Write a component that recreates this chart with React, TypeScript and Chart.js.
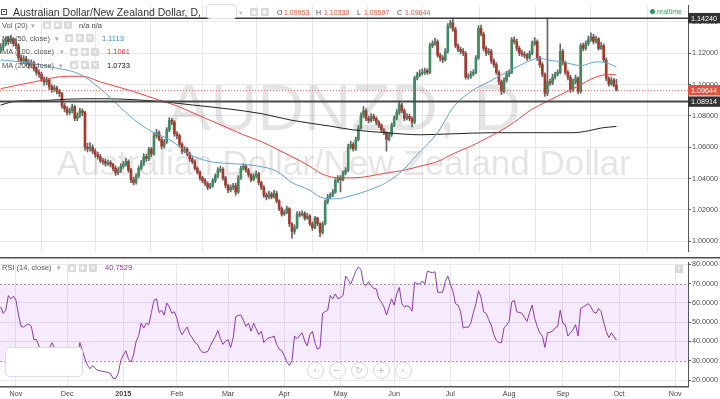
import React, { useEffect, useRef } from "react";
import { Chart, registerables } from "chart.js";

Chart.register(...registerables);

const FONT = '"Liberation Sans", Arial, Helvetica, sans-serif';

// ---------------- data (daily AUD/NZD candles, bar 0 = Mon 3 Nov 2014) ----------------
const firstBar = -6;
const firstOpen = 1.1215;

const closes = [
  1.1237, 1.1261, 1.1286, 1.1274, 1.1292, 1.1261,
  1.1249, 1.1170, 1.1151, 1.1164, 1.1139, 1.1127, 1.1139, 1.1102, 1.1078, 1.1066,
  1.1035, 1.1017, 1.1029, 1.0986, 1.0968, 1.0980, 1.0956, 1.0943, 1.0864, 1.0845,
  1.0821, 1.0833, 1.0858, 1.0784, 1.0803, 1.0833, 1.0821, 1.0601, 1.0589, 1.0601,
  1.0576, 1.0552, 1.0540, 1.0515, 1.0509, 1.0497, 1.0503, 1.0491, 1.0466, 1.0436,
  1.0454, 1.0479, 1.0491, 1.0509, 1.0454, 1.0393, 1.0375, 1.0417, 1.0466, 1.0497,
  1.0540, 1.0527, 1.0589, 1.0558, 1.0674, 1.0693, 1.0650, 1.0607, 1.0637, 1.0711,
  1.0772, 1.0760, 1.0686, 1.0674, 1.0619, 1.0576, 1.0589, 1.0558, 1.0527, 1.0509,
  1.0466, 1.0442, 1.0405, 1.0387, 1.0369, 1.0344, 1.0356, 1.0387, 1.0417, 1.0454,
  1.0460, 1.0405, 1.0356, 1.0326, 1.0344, 1.0356, 1.0314, 1.0405, 1.0466, 1.0479,
  1.0454, 1.0424, 1.0393, 1.0417, 1.0430, 1.0375, 1.0344, 1.0295, 1.0283, 1.0301,
  1.0283, 1.0307, 1.0258, 1.0209, 1.0173, 1.0185, 1.0209, 1.0112, 1.0063, 1.0087,
  1.0173, 1.0168, 1.0179, 1.0148, 1.0161, 1.0112, 1.0087, 1.0148, 1.0112, 1.0057,
  1.0112, 1.0252, 1.0283, 1.0295, 1.0314, 1.0387, 1.0405, 1.0393, 1.0436, 1.0454,
  1.0601, 1.0619, 1.0589, 1.0650, 1.0723, 1.0803, 1.0833, 1.0784, 1.0772, 1.0797,
  1.0784, 1.0760, 1.0741, 1.0711, 1.0693, 1.0650, 1.0680, 1.0741, 1.0784, 1.0821,
  1.0870, 1.0833, 1.0784, 1.0797, 1.0784, 1.0760, 1.1041, 1.1060, 1.1072, 1.1078,
  1.1090, 1.1078, 1.1249, 1.1261, 1.1274, 1.1188, 1.1170, 1.1157, 1.1212, 1.1371,
  1.1396, 1.1353, 1.1249, 1.1225, 1.1212, 1.1200, 1.1047, 1.1053, 1.1066, 1.1078,
  1.1170, 1.1359, 1.1323, 1.1231, 1.1200, 1.1212, 1.1151, 1.1127, 1.1078, 1.1017,
  1.0956, 1.1029, 1.1066, 1.1078, 1.1286, 1.1274, 1.1231, 1.1200, 1.1194, 1.1188,
  1.1170, 1.1200, 1.1261, 1.1274, 1.1170, 1.1127, 1.1066, 1.0943, 1.1017, 1.1010,
  1.1047, 1.1066, 1.1078, 1.1212, 1.1139, 1.1078, 1.1047, 1.0968, 1.1017, 1.1041,
  1.0956, 1.1249, 1.1231, 1.1261, 1.1286, 1.1304, 1.1274, 1.1292, 1.1231, 1.1249,
  1.1157, 1.1041, 1.1004, 1.1029, 1.0995, 1.0964,
];

const highs = [
  1.1262, 1.1285, 1.1305, 1.1310, 1.1315, 1.1300,
  1.1290, 1.1262, 1.1190, 1.1185, 1.1180, 1.1160, 1.1158, 1.1150, 1.1115, 1.1095,
  1.1080, 1.1050, 1.1048, 1.1040, 1.1000, 1.0995, 1.0990, 1.0970, 1.0950, 1.0880,
  1.0860, 1.0850, 1.0875, 1.0870, 1.0820, 1.0850, 1.0845, 1.0830, 1.0625, 1.0630,
  1.0615, 1.0590, 1.0570, 1.0555, 1.0530, 1.0525, 1.0520, 1.0515, 1.0500, 1.0480,
  1.0470, 1.0495, 1.0510, 1.0530, 1.0520, 1.0465, 1.0410, 1.0430, 1.0480, 1.0515,
  1.0560, 1.0555, 1.0600, 1.0600, 1.0690, 1.0715, 1.0705, 1.0665, 1.0650, 1.0725,
  1.0790, 1.0785, 1.0770, 1.0700, 1.0685, 1.0630, 1.0605, 1.0600, 1.0570, 1.0540,
  1.0520, 1.0475, 1.0450, 1.0415, 1.0400, 1.0380, 1.0370, 1.0400, 1.0430, 1.0470,
  1.0480, 1.0470, 1.0415, 1.0365, 1.0360, 1.0370, 1.0370, 1.0420, 1.0480, 1.0495,
  1.0490, 1.0465, 1.0435, 1.0430, 1.0450, 1.0440, 1.0385, 1.0355, 1.0310, 1.0320,
  1.0315, 1.0325, 1.0320, 1.0265, 1.0220, 1.0200, 1.0225, 1.0215, 1.0120, 1.0105,
  1.0190, 1.0190, 1.0195, 1.0190, 1.0180, 1.0170, 1.0125, 1.0160, 1.0155, 1.0120,
  1.0125, 1.0265, 1.0300, 1.0310, 1.0330, 1.0400, 1.0420, 1.0420, 1.0450, 1.0470,
  1.0620, 1.0640, 1.0630, 1.0665, 1.0740, 1.0820, 1.0860, 1.0845, 1.0800, 1.0815,
  1.0810, 1.0795, 1.0770, 1.0750, 1.0720, 1.0700, 1.0695, 1.0755, 1.0800, 1.0840,
  1.0895, 1.0880, 1.0845, 1.0815, 1.0810, 1.0795, 1.1055, 1.1080, 1.1095, 1.1100,
  1.1105, 1.1100, 1.1265, 1.1280, 1.1295, 1.1285, 1.1200, 1.1185, 1.1230, 1.1390,
  1.1410, 1.1424, 1.1365, 1.1260, 1.1240, 1.1230, 1.1210, 1.1070, 1.1085, 1.1095,
  1.1185, 1.1375, 1.1380, 1.1335, 1.1245, 1.1230, 1.1225, 1.1165, 1.1140, 1.1090,
  1.1030, 1.1045, 1.1085, 1.1095, 1.1300, 1.1305, 1.1290, 1.1245, 1.1220, 1.1210,
  1.1200, 1.1215, 1.1280, 1.1300, 1.1285, 1.1180, 1.1140, 1.1075, 1.1424, 1.1035,
  1.1065, 1.1080, 1.1095, 1.1260, 1.1225, 1.1150, 1.1090, 1.1060, 1.1035, 1.1060,
  1.1050, 1.1261, 1.1265, 1.1280, 1.1310, 1.1330, 1.1320, 1.1310, 1.1300, 1.1270,
  1.1260, 1.1170, 1.1050, 1.1045, 1.1040, 1.1033,
];

const lows = [
  1.1200, 1.1220, 1.1248, 1.1255, 1.1262, 1.1245,
  1.1230, 1.1150, 1.1130, 1.1135, 1.1120, 1.1105, 1.1110, 1.1085, 1.1060, 1.1045,
  1.1020, 1.0995, 1.1000, 1.0970, 1.0950, 1.0955, 1.0940, 1.0925, 1.0850, 1.0825,
  1.0805, 1.0810, 1.0820, 1.0770, 1.0770, 1.0790, 1.0800, 1.0580, 1.0570, 1.0575,
  1.0560, 1.0535, 1.0525, 1.0500, 1.0490, 1.0480, 1.0485, 1.0475, 1.0450, 1.0420,
  1.0425, 1.0440, 1.0465, 1.0480, 1.0440, 1.0375, 1.0360, 1.0365, 1.0405, 1.0455,
  1.0485, 1.0510, 1.0515, 1.0540, 1.0550, 1.0660, 1.0640, 1.0590, 1.0595, 1.0625,
  1.0700, 1.0745, 1.0670, 1.0655, 1.0600, 1.0560, 1.0565, 1.0545, 1.0510, 1.0495,
  1.0455, 1.0430, 1.0390, 1.0372, 1.0355, 1.0330, 1.0335, 1.0345, 1.0375, 1.0405,
  1.0440, 1.0390, 1.0340, 1.0310, 1.0315, 1.0330, 1.0295, 1.0305, 1.0395, 1.0455,
  1.0440, 1.0410, 1.0380, 1.0385, 1.0405, 1.0360, 1.0330, 1.0280, 1.0265, 1.0270,
  1.0270, 1.0275, 1.0245, 1.0195, 1.0160, 1.0165, 1.0175, 1.0095, 1.0020, 1.0045,
  1.0080, 1.0155, 1.0160, 1.0135, 1.0140, 1.0100, 1.0070, 1.0080, 1.0100, 1.0030,
  1.0045, 1.0105, 1.0240, 1.0270, 1.0285, 1.0305, 1.0375, 1.0315, 1.0385, 1.0425,
  1.0445, 1.0590, 1.0575, 1.0580, 1.0640, 1.0715, 1.0790, 1.0770, 1.0755, 1.0760,
  1.0770, 1.0745, 1.0725, 1.0700, 1.0680, 1.0576, 1.0640, 1.0670, 1.0730, 1.0775,
  1.0810, 1.0820, 1.0770, 1.0775, 1.0770, 1.0730, 1.0750, 1.1030, 1.1050, 1.1060,
  1.1065, 1.1065, 1.1070, 1.1235, 1.1250, 1.1175, 1.1150, 1.1140, 1.1150, 1.1200,
  1.1360, 1.1340, 1.1235, 1.1210, 1.1195, 1.1185, 1.1035, 1.1035, 1.1040, 1.1055,
  1.1070, 1.1160, 1.1310, 1.1215, 1.1185, 1.1190, 1.1135, 1.1110, 1.1065, 1.1000,
  1.0935, 1.0945, 1.1015, 1.1050, 1.1070, 1.1260, 1.1215, 1.1185, 1.1180, 1.1170,
  1.1155, 1.1160, 1.1190, 1.1250, 1.1155, 1.1110, 1.1050, 1.0925, 1.0930, 1.0995,
  1.1000, 1.1035, 1.1055, 1.1070, 1.1125, 1.1065, 1.1030, 1.0950, 1.0955, 1.1005,
  1.0940, 1.0945, 1.1215, 1.1220, 1.1250, 1.1275, 1.1260, 1.1265, 1.1220, 1.1225,
  1.1145, 1.1025, 1.0990, 1.0995, 1.0985, 1.0960,
];

const rsiValues = [
  57.9, 54.6, 56.2, 63.8, 62.1, 63.5, 61.3, 53.7, 47.8, 47.5,
  48.5, 49.0, 47.8, 41.0, 41.0, 37.7, 35, 34, 33, 36,
  39.4, 37, 33, 32, 31, 30, 29, 29.5, 30, 31,
  32, 39.4, 35.2, 31, 27.6, 25.9, 27.6, 26, 25.1, 24.8,
  24.5, 24.3, 24, 23.4, 20.9, 20.9, 23.4, 30.1, 33, 35.2,
  31.0, 29.3, 33, 40, 43, 49.5, 47, 49.5, 48.7, 55,
  61.3, 62.1, 55, 56.2, 53.7, 60, 58, 54.6, 55.4, 52.0,
  46.1, 43.5, 45.8, 47.5, 43.6, 41.9, 39.5, 38.6, 36.0, 34.4,
  34.4, 34.8, 37.5, 40.2, 42.5, 45.7, 41.5, 38.5, 40.2, 41.0,
  36.9, 41.9, 52.9, 53.5, 53.7, 51, 47.8, 49.5, 45.3, 49.5,
  46.5, 43.6, 45.3, 39.4, 41.0, 41.9, 42.2, 42.8, 38.6, 36.0,
  35.2, 32.7, 29.5, 27.6, 30.1, 42.8, 41.5, 43, 44.5, 40.2,
  37.7, 43.5, 45.3, 39.4, 36.0, 36.9, 54.6, 55.5, 56.2, 63.8,
  62.1, 64.6, 62.1, 62.8, 63.8, 73.9, 72, 69.7, 73, 76.4,
  78.6, 77.3, 70, 68.9, 70.9, 68.9, 67.5, 67.2, 62.1, 60.4,
  57.9, 53.7, 57.9, 62.1, 58.8, 64.7, 68.0, 59.6, 57.9, 58.5,
  57.9, 55.7, 70.6, 70, 69.7, 71.4, 69.7, 76.4, 76, 75.6,
  76.1, 65.5, 65.5, 65.5, 71, 73.9, 69.7, 66, 59.6, 58.8,
  55.4, 47.0, 47.5, 47.3, 49.5, 55, 59.6, 66.3, 62.9, 55.4,
  54.6, 51.3, 48.5, 43.6, 40.5, 39.4, 39.4, 47.0, 48.5, 50.4,
  60.4, 61.3, 55.4, 55, 54.6, 52.5, 50.4, 55, 58.8, 52.0,
  47.8, 44.5, 42.8, 36.9, 44.5, 44.8, 45.3, 47.0, 47.8, 56.2,
  49.5, 48.7, 42.8, 44.5, 46.1, 48.7, 42.8, 57.1, 57.9, 58.8,
  59.6, 57.9, 55.4, 54.6, 57.1, 55.4, 50, 45.3, 42.0, 44.5,
  42.5, 40.75,
];

const ma50Bars = [-6, 5, 15, 25, 33, 41, 48, 54, 60, 69, 76, 83, 89, 95, 102, 108, 115, 119, 125, 132, 139, 145, 151, 158, 165, 171, 178, 185, 194, 201, 205, 208, 214, 221, 227, 231, 235];
const ma50Values = [1.1157, 1.1139, 1.1108, 1.1066, 1.0974, 1.0852, 1.0754, 1.0693, 1.065, 1.0546, 1.0509, 1.0497, 1.0491, 1.0479, 1.0448, 1.0375, 1.0326, 1.0283, 1.0271, 1.0295, 1.0332, 1.0375, 1.0448, 1.057, 1.0693, 1.0852, 1.0956, 1.1017, 1.1096, 1.1151, 1.117, 1.1157, 1.1145, 1.1121, 1.1145, 1.1139, 1.1113];

const ma100Bars = [-6, 7, 20, 26, 33, 46, 56, 63, 69, 76, 83, 89, 96, 102, 108, 115, 119, 126, 132, 145, 152, 158, 165, 171, 178, 184, 189, 195, 201, 208, 214, 221, 225, 229, 232, 235];
const ma100Values = [1.0974, 1.1017, 1.1053, 1.1053, 1.1017, 1.0956, 1.0901, 1.0864, 1.0821, 1.0772, 1.0723, 1.068, 1.0637, 1.0589, 1.054, 1.0479, 1.0436, 1.0405, 1.0405, 1.0436, 1.0454, 1.0479, 1.0509, 1.0558, 1.0607, 1.0656, 1.0699, 1.076, 1.0833, 1.0894, 1.0943, 1.0998, 1.1035, 1.1058, 1.1066, 1.1061];

const ma200Bars = [-6, 0, 13, 20, 33, 46, 59, 69, 83, 96, 108, 123, 132, 145, 158, 171, 186, 208, 218, 224, 229, 235];
const ma200Values = [1.087, 1.0894, 1.09, 1.0907, 1.091, 1.0904, 1.0888, 1.087, 1.0845, 1.0815, 1.0772, 1.0735, 1.0711, 1.0693, 1.068, 1.0686, 1.0693, 1.0693, 1.0693, 1.0705, 1.0723, 1.0733];

const monthBars = [0, 20, 42, 63, 83, 105, 127, 148, 170, 193, 214, 236, 258];
const monthLabels = ["Nov", "Dec", "2015", "Feb", "Mar", "Apr", "May", "Jun", "Jul", "Aug", "Sep", "Oct", "Nov"];
const priceTicks = [1.0, 1.02, 1.04, 1.06, 1.08, 1.1, 1.12, 1.14];
const rsiTicks = [20, 30, 40, 50, 60, 70, 80];
const rsiBand = [30, 70];

const resistanceLevel = 1.1424;
const supportLevel = 1.08914;
const lastClose = 1.09644;

const ohlcLabels = ["O", "H", "L", "C"];
const ohlcValues = ["1.09953", "1.10330", "1.09597", "1.09644"];
const maLegendNames = ["MA (50, close)", "MA (100, close)", "MA (200, close)"];
const maLegendValues = ["1.1113", "1.1061", "1.0733"];
const rsiLegendValue = "40.7529";

// ---------------- view / style ----------------
const X_MIN = -6.26;
const X_MAX = 263.0;
const PRICE_MIN = 0.9934;
const PRICE_MAX = 1.15058;
const RSI_MIN = 16.6;
const RSI_MAX = 81.0;

const GRID = "#e8e8e8";
const UP = "#3f8a5e";
const DOWN = "#a53a2c";
const WICK = "#666666";
const MA50_COLOR = "#63a3cc";
const MA100_COLOR = "#e34848";
const MA200_COLOR = "#222222";
const RSI_COLOR = "#8e3aa6";
const LEGEND_VALUE_COLORS = ["#3e8fc6", "#e0342e", "#111111"];
const MA_ICON_X = [65, 70, 70];
const MA_CARET_X = [55, 60, 59];
const MA_VALUE_X = [102, 107, 107];
const MA_ROW_Y = [38.3, 51.7, 65];
const OHLC_LABEL_X = [277, 316, 357, 397];
const OHLC_VALUE_X = [284, 324, 364, 405];
const NAV_X = [315, 337, 359, 381, 403];
const NAV_GLYPHS = ["‹", "−", "↻", "+", "›"];

const bars = closes.map((_, k) => firstBar + k);
const opens = closes.map((c, k) => (k === 0 ? firstOpen : closes[k - 1]));

const fixedWidth = (s: any) => {
  s.width = 32;
};

const watermarkPlugin = {
  id: "watermark",
  beforeDatasetsDraw(chart: any) {
    const { ctx, chartArea } = chart;
    const cx = (chartArea.left + chartArea.right) / 2;
    ctx.save();
    ctx.fillStyle = "rgba(0,0,0,0.105)";
    ctx.textAlign = "center";
    ctx.textBaseline = "alphabetic";
    ctx.font = `65px ${FONT}`;
    ctx.fillText("AUDNZD, D", cx, 130);
    ctx.font = `35px ${FONT}`;
    ctx.fillText("Australian Dollar/New Zealand Dollar", cx, 175);
    ctx.restore();
  },
};

const levelsPlugin = {
  id: "levels",
  afterDatasetsDraw(chart: any) {
    const { ctx, chartArea, scales } = chart;
    const y = scales.y;
    ctx.save();
    // last price dotted line
    const yl = y.getPixelForValue(lastClose);
    ctx.strokeStyle = "rgba(222,80,62,0.75)";
    ctx.lineWidth = 1;
    ctx.setLineDash([1, 2]);
    ctx.beginPath();
    ctx.moveTo(chartArea.left, Math.round(yl) + 0.5);
    ctx.lineTo(chartArea.right, Math.round(yl) + 0.5);
    ctx.stroke();
    ctx.setLineDash([]);
    // resistance
    const yr = y.getPixelForValue(resistanceLevel);
    ctx.strokeStyle = "#3a3a3a";
    ctx.lineWidth = 1.5;
    ctx.beginPath();
    ctx.moveTo(chartArea.left, yr);
    ctx.lineTo(chartArea.right, yr);
    ctx.stroke();
    // support
    const ys = y.getPixelForValue(supportLevel);
    ctx.strokeStyle = "#484848";
    ctx.lineWidth = 2;
    ctx.beginPath();
    ctx.moveTo(chartArea.left, ys);
    ctx.lineTo(chartArea.right, ys);
    ctx.stroke();
    ctx.restore();
  },
  afterDraw(chart: any) {
    const { ctx, chartArea, scales } = chart;
    const y = scales.y;
    const boxes: [number, string][] = [
      [resistanceLevel, "#333333"],
      [lastClose, "#e0533f"],
      [supportLevel, "#333333"],
    ];
    ctx.save();
    ctx.font = `7.2px ${FONT}`;
    ctx.textBaseline = "middle";
    ctx.textAlign = "left";
    for (const [v, col] of boxes) {
      const py = y.getPixelForValue(v);
      ctx.fillStyle = col;
      ctx.fillRect(chartArea.right, py - 5.2, 720 - chartArea.right, 10.4);
      ctx.fillStyle = "#ffffff";
      ctx.fillText(v.toFixed(5), chartArea.right + 3, py + 0.5);
    }
    ctx.restore();
  },
};

const rsiPlugin = {
  id: "rsiBand",
  beforeDatasetsDraw(chart: any) {
    const { ctx, chartArea, scales } = chart;
    const y = scales.y;
    const yTop = y.getPixelForValue(rsiBand[1]);
    const yBot = y.getPixelForValue(rsiBand[0]);
    ctx.save();
    ctx.fillStyle = "rgba(153,21,255,0.09)";
    ctx.fillRect(chartArea.left, yTop, chartArea.right - chartArea.left, yBot - yTop);
    ctx.strokeStyle = "#aaa0b2";
    ctx.lineWidth = 1;
    ctx.setLineDash([2, 2]);
    for (const yy of [yTop, yBot]) {
      ctx.beginPath();
      ctx.moveTo(chartArea.left, Math.round(yy) + 0.5);
      ctx.lineTo(chartArea.right, Math.round(yy) + 0.5);
      ctx.stroke();
    }
    ctx.restore();
  },
  afterDraw(chart: any) {
    const { ctx } = chart;
    ctx.save();
    ctx.strokeStyle = "#4d4d4d";
    ctx.lineWidth = 1.5;
    ctx.beginPath();
    ctx.moveTo(0, 0.75);
    ctx.lineTo(720, 0.75);
    ctx.stroke();
    ctx.restore();
  },
};

function Txt(props: { x: number; y: number; size?: number; color?: string; weight?: string; children: any }) {
  const size = props.size ?? 7.5;
  const h = Math.round(size * 1.25);
  return (
    <span
      style={{
        position: "absolute",
        left: props.x,
        top: props.y - h / 2,
        height: h,
        fontSize: size,
        lineHeight: `${h}px`,
        color: props.color ?? "#555",
        fontWeight: (props.weight as any) ?? "normal",
        whiteSpace: "nowrap",
      }}
    >
      {props.children}
    </span>
  );
}

function Icons(props: { x: number; y: number; n?: number }) {
  const n = props.n ?? 3;
  const glyphs = ["◉", "✱", "✕"];
  return (
    <>
      {Array.from({ length: n }).map((_, k) => (
        <span
          key={k}
          style={{
            position: "absolute",
            left: props.x + k * 10.5,
            top: props.y - 4,
            width: 8,
            height: 8,
            background: "#dadada",
            borderRadius: 1,
            color: "#fff",
            fontSize: 6,
            lineHeight: "8px",
            textAlign: "center",
            fontFamily: '"DejaVu Sans", sans-serif',
          }}
        >
          {glyphs[k % 3]}
        </span>
      ))}
    </>
  );
}

export default function App() {
  const topRef = useRef<HTMLCanvasElement>(null);
  const rsiRef = useRef<HTMLCanvasElement>(null);

  useEffect(() => {
    const up = closes.map((c, k) => c >= opens[k]);
    const top = new Chart(topRef.current as HTMLCanvasElement, {
      type: "bar",
      data: {
        datasets: [
          {
            type: "line",
            label: "MA 50",
            data: ma50Bars.map((x, k) => ({ x, y: ma50Values[k] })),
            borderColor: MA50_COLOR,
            borderWidth: 1,
            pointRadius: 0,
            cubicInterpolationMode: "monotone",
            order: 0,
          } as any,
          {
            type: "line",
            label: "MA 100",
            data: ma100Bars.map((x, k) => ({ x, y: ma100Values[k] })),
            borderColor: MA100_COLOR,
            borderWidth: 1,
            pointRadius: 0,
            cubicInterpolationMode: "monotone",
            order: 0,
          } as any,
          {
            type: "line",
            label: "MA 200",
            data: ma200Bars.map((x, k) => ({ x, y: ma200Values[k] })),
            borderColor: MA200_COLOR,
            borderWidth: 1,
            pointRadius: 0,
            cubicInterpolationMode: "monotone",
            order: 0,
          } as any,
          {
            type: "bar",
            label: "body",
            data: bars.map((x, k) => ({ x, y: [opens[k], closes[k]] })),
            backgroundColor: up.map((u) => (u ? UP : DOWN)),
            borderWidth: 0,
            barThickness: 2,
            minBarLength: 1,
            grouped: false,
            order: 1,
          } as any,
          {
            type: "bar",
            label: "wick",
            data: bars.map((x, k) => ({ x, y: [lows[k], highs[k]] })),
            backgroundColor: WICK,
            borderWidth: 0,
            barThickness: 1,
            grouped: false,
            order: 2,
          } as any,
        ],
      },
      options: {
        responsive: false,
        animation: false,
        events: [],
        layout: { padding: 0 },
        plugins: { legend: { display: false }, tooltip: { enabled: false } },
        scales: {
          x: {
            type: "linear",
            min: X_MIN,
            max: X_MAX,
            offset: false,
            afterBuildTicks: (s: any) => {
              s.ticks = monthBars.map((v) => ({ value: v }));
            },
            afterFit: (s: any) => {
              s.height = 0;
            },
            ticks: { display: false },
            grid: { color: GRID, drawTicks: false },
            border: { display: false },
          },
          y: {
            type: "linear",
            position: "right",
            min: PRICE_MIN,
            max: PRICE_MAX,
            afterBuildTicks: (s: any) => {
              s.ticks = priceTicks.map((v) => ({ value: v }));
            },
            afterFit: fixedWidth,
            ticks: {
              font: { family: FONT, size: 7.2 },
              color: "#4a4a4a",
              padding: 1,
              callback: (v: any) => Number(v).toFixed(5),
            },
            grid: { color: GRID, tickLength: 3, tickColor: "#666" },
            border: { color: "#555", width: 1 },
          },
        },
      } as any,
      plugins: [watermarkPlugin, levelsPlugin],
    });

    const bottom = new Chart(rsiRef.current as HTMLCanvasElement, {
      type: "line",
      data: {
        datasets: [
          {
            label: "RSI",
            data: bars.map((x, k) => ({ x, y: rsiValues[k] })),
            borderColor: RSI_COLOR,
            borderWidth: 1,
            pointRadius: 0,
            tension: 0,
          },
        ],
      },
      options: {
        responsive: false,
        animation: false,
        events: [],
        layout: { padding: { top: 2 } },
        plugins: { legend: { display: false }, tooltip: { enabled: false } },
        scales: {
          x: {
            type: "linear",
            min: X_MIN,
            max: X_MAX,
            afterBuildTicks: (s: any) => {
              s.ticks = monthBars.map((v) => ({ value: v }));
            },
            afterFit: (s: any) => {
              s.height = 12.3;
            },
            ticks: {
              autoSkip: false,
              maxRotation: 0,
              padding: 3,
              color: "#444",
              font: (c: any) => ({
                family: FONT,
                size: 7.2,
                weight: c.tick && c.tick.value === monthBars[2] ? "bold" : "normal",
              }),
              callback: (v: any) => {
                const k = monthBars.indexOf(Number(v));
                return k >= 0 ? monthLabels[k] : "";
              },
            },
            grid: { color: GRID, drawTicks: false },
            border: { color: "#555", width: 1.5 },
          },
          y: {
            type: "linear",
            position: "right",
            min: RSI_MIN,
            max: RSI_MAX,
            afterBuildTicks: (s: any) => {
              s.ticks = rsiTicks.map((v) => ({ value: v }));
            },
            afterFit: fixedWidth,
            ticks: {
              font: { family: FONT, size: 7.2 },
              color: "#4a4a4a",
              padding: 1,
              callback: (v: any) => Number(v).toFixed(4),
            },
            grid: {
              color: (c: any) => (c.tick && rsiBand.includes(c.tick.value) ? "rgba(0,0,0,0)" : GRID),
              tickLength: 3,
              tickColor: "#666",
            },
            border: { color: "#555", width: 1 },
          },
        },
      } as any,
      plugins: [rsiPlugin],
    });

    return () => {
      top.destroy();
      bottom.destroy();
    };
  }, []);

  return (
    <div
      style={{
        position: "fixed",
        left: 0,
        top: 0,
        width: 720,
        height: 399,
        background: "#fff",
        overflow: "hidden",
        fontFamily: FONT,
      }}
    >
      <canvas ref={topRef} width={720} height={257} style={{ position: "absolute", left: 0, top: 0, width: 720, height: 257 }} />
      <canvas ref={rsiRef} width={720} height={142} style={{ position: "absolute", left: 0, top: 257, width: 720, height: 142 }} />

      {/* title row */}
      <span
        style={{
          position: "absolute",
          left: 1,
          top: 8.5,
          width: 6,
          height: 6,
          border: "1px solid #555",
          boxSizing: "border-box",
        }}
      >
        <span style={{ position: "absolute", left: 1, right: 1, top: 1.5, height: 1, background: "#555" }} />
      </span>
      <Txt x={13} y={12} size={10.5} color="#333">
        Australian Dollar/New Zealand Dollar, D,
      </Txt>
      <span
        style={{
          position: "absolute",
          left: 206,
          top: 4,
          width: 31,
          height: 15,
          background: "#fff",
          border: "1px solid #e6d8f3",
          borderRadius: 4,
          boxSizing: "border-box",
        }}
      />
      <Txt x={239} y={12} size={7} color="#bbb">
        ▾
      </Txt>
      <Icons x={250} y={12} n={2} />
      {ohlcLabels.map((l, k) => (
        <React.Fragment key={l}>
          <Txt x={OHLC_LABEL_X[k]} y={12} size={7} color="#444">
            {l}
          </Txt>
          <Txt x={OHLC_VALUE_X[k]} y={12} size={7} color="#e0533f">
            {ohlcValues[k]}
          </Txt>
        </React.Fragment>
      ))}

      {/* realtime */}
      <span
        style={{
          position: "absolute",
          left: 649.5,
          top: 9,
          width: 5,
          height: 5,
          borderRadius: "50%",
          background: "#2c9a57",
        }}
      />
      <Txt x={657} y={11.5} size={7} color="#3a9f60">
        realtime
      </Txt>

      {/* study legends */}
      <Txt x={2} y={25} color="#555">
        Vol (20)
      </Txt>
      <Txt x={31} y={25} size={7} color="#aaa">
        ▾
      </Txt>
      <Icons x={43} y={25} />
      <Txt x={79} y={25} color="#444">
        n/a n/a
      </Txt>
      {maLegendNames.map((name, k) => (
        <React.Fragment key={name}>
          <Txt x={2} y={MA_ROW_Y[k]} color="#555">
            {name}
          </Txt>
          <Txt x={MA_CARET_X[k]} y={MA_ROW_Y[k]} size={7} color="#aaa">
            ▾
          </Txt>
          <Icons x={MA_ICON_X[k]} y={MA_ROW_Y[k]} />
          <Txt x={MA_VALUE_X[k]} y={MA_ROW_Y[k]} color={LEGEND_VALUE_COLORS[k]}>
            {maLegendValues[k]}
          </Txt>
        </React.Fragment>
      ))}

      {/* RSI legend */}
      <Txt x={2} y={267.7} color="#555">
        RSI (14, close)
      </Txt>
      <Txt x={57} y={267.7} size={7} color="#aaa">
        ▾
      </Txt>
      <Icons x={68} y={267.7} />
      <Txt x={105} y={267.7} color={RSI_COLOR}>
        {rsiLegendValue}
      </Txt>
      <span
        style={{
          position: "absolute",
          left: 675,
          top: 264.5,
          width: 8,
          height: 8,
          background: "#d9d9d9",
          color: "#fff",
          fontSize: 6,
          lineHeight: "8px",
          textAlign: "center",
          fontWeight: "bold",
        }}
      >
        !
      </span>

      {/* empty overlay box bottom-left */}
      <span
        style={{
          position: "absolute",
          left: 5,
          top: 347,
          width: 78,
          height: 30,
          background: "#fff",
          border: "1px solid #e4d3f1",
          borderRadius: 5,
          boxSizing: "border-box",
        }}
      />

      {/* navigation buttons */}
      {NAV_X.map((x, k) => (
        <span
          key={k}
          style={{
            position: "absolute",
            left: x - 8.5,
            top: 370 - 8.5,
            width: 17,
            height: 17,
            borderRadius: "50%",
            border: "1px solid #d6d6d6",
            background: "rgba(255,255,255,0.45)",
            boxSizing: "border-box",
            color: "#bdbdbd",
            fontSize: 9,
            lineHeight: "15px",
            textAlign: "center",
            fontFamily: '"DejaVu Sans", sans-serif',
          }}
        >
          {NAV_GLYPHS[k]}
        </span>
      ))}
    </div>
  );
}
